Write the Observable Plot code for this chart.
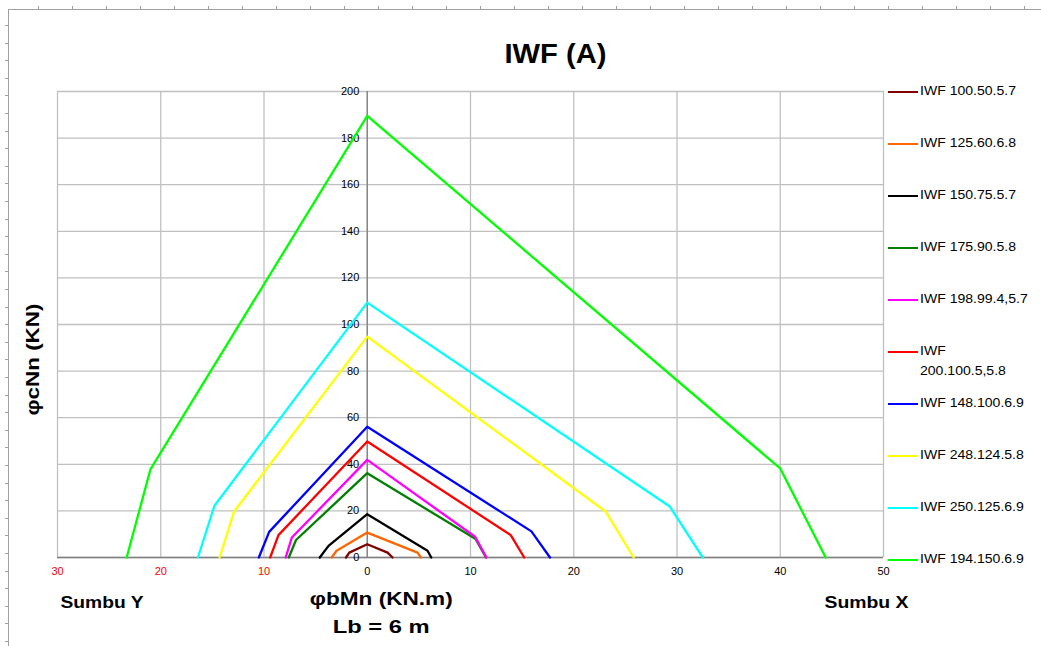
<!DOCTYPE html>
<html>
<head>
<meta charset="utf-8">
<script src="https://cdn.jsdelivr.net/npm/d3@7"></script>
<script src="https://cdn.jsdelivr.net/npm/@observablehq/plot@0.6"></script>
<style>
  html, body { margin: 0; padding: 0; background: #fff; }
  #wrap { position: relative; width: 1041px; height: 646px; overflow: hidden; font-family: "Liberation Sans", Arial, sans-serif; }
  #frame { position: absolute; left: 8px; top: 9px; right: 0; bottom: 0; border-left: 1px solid #a0a0a0; border-top: 1px solid #a0a0a0; }
  #tickTop { position: absolute; left: 8px; top: 6px; right: 0; height: 3px;
    background: repeating-linear-gradient(to right, transparent 0 30px, #a0a0a0 30px 31px, transparent 31px 34px); }
  #tickLeft { position: absolute; left: 5px; top: 9px; width: 3px; bottom: 0;
    background: repeating-linear-gradient(to bottom, transparent 0 16px, #a0a0a0 16px 17px, transparent 17px 17.6px); }
  #chart { position: absolute; left: 0; top: 0; }
  #legend { position: absolute; left: 888px; top: 0; width: 150px; font-size: 12px; color: #000; }
  .item { position: absolute; left: 0; display: flex; align-items: flex-start; }
  .sw { width: 30px; height: 2px; margin-top: 7px; flex: none; }
  .lab { width: 110px; line-height: 20px; margin-top: -3px; margin-left: 2px; transform: scaleX(1.17); transform-origin: left top; }
</style>
</head>
<body>
<div id="wrap">
  <div id="tickTop"></div>
  <div id="tickLeft"></div>
  <div id="frame"></div>
  <div id="chart"></div>
  <div id="legend"></div>
</div>
<script>
// ---- data ----
const seriesNames = [
  "IWF 100.50.5.7", "IWF 125.60.6.8", "IWF 150.75.5.7", "IWF 175.90.5.8",
  "IWF 198.99.4,5.7", "IWF 200.100.5,5.8", "IWF 148.100.6.9", "IWF 248.124.5.8",
  "IWF 250.125.6.9", "IWF 194.150.6.9"
];
const seriesColors = ["#800000", "#ff6600", "#000000", "#008000", "#ff00ff",
  "#ff0000", "#0000ff", "#ffff00", "#00ffff", "#00ff00"];
// φbMn (KN.m): negative = Sumbu Y, positive = Sumbu X
const mnValues = [
  [-2.06, -1.74, 0, 1.97, 2.45],
  [-3.45, -2.97, 0, 4.87, 5.2],
  [-4.6, -3.75, 0, 5.84, 6.2],
  [-7.6, -6.9, 0, 10.5, 11.5],
  [-7.9, -7.3, 0, 10.45, 11.55],
  [-9.4, -8.6, 0, 13.9, 15.2],
  [-10.5, -9.5, 0, 15.9, 17.7],
  [-14.3, -12.9, 0, 23.1, 25.8],
  [-16.4, -14.8, 0, 29.3, 32.5],
  [-23.3, -21.0, 0, 40.0, 44.4]
];
// φcNn (KN)
const nnValues = [
  [0, 2.1, 5.7, 2.1, 0],
  [0, 2.9, 10.7, 2.1, 0],
  [0, 5.0, 18.6, 2.9, 0],
  [0, 7.5, 36.2, 7.9, 0],
  [0, 8.6, 41.9, 8.9, 0],
  [0, 9.6, 49.8, 9.6, 0],
  [0, 11.0, 56.1, 11.2, 0],
  [0, 19.7, 94.8, 19.7, 0],
  [0, 22.2, 109.4, 21.9, 0],
  [0, 37.8, 189.5, 38.2, 0]
];
const xTicks = [-30, -20, -10, 0, 10, 20, 30, 40, 50];
const yTicks = [0, 20, 40, 60, 80, 100, 120, 140, 160, 180, 200];
const titleText = "IWF (A)";
const xTitle = "φbMn (KN.m)";
const xSubTitle = "Lb = 6 m";
const yTitle = "φcNn (KN)";
const leftLabel = "Sumbu Y";
const rightLabel = "Sumbu X";

// ---- build ----
const rows = [];
seriesNames.forEach((s, i) => {
  mnValues[i].forEach((x, j) => rows.push({ s, x, y: nnValues[i][j] }));
});

const font = "'Liberation Sans', Arial, sans-serif";
const chart = Plot.plot({
  width: 1041,
  height: 646,
  marginLeft: 57,
  marginRight: 158,
  marginTop: 91,
  marginBottom: 89,
  x: { domain: [-30, 50], axis: null },
  y: { domain: [0, 200], axis: null },
  color: { domain: seriesNames, range: seriesColors },
  style: { fontFamily: font, fontSize: "11px", background: "transparent", overflow: "visible" },
  marks: [
    Plot.ruleX(xTicks, { stroke: "#c0c0c0", strokeWidth: 1.3 }),
    Plot.ruleY(yTicks, { stroke: "#c0c0c0", strokeWidth: 1.3 }),
    Plot.ruleX([0], { stroke: "#808080", strokeWidth: 1.3 }),
    Plot.ruleY([0], { stroke: "#808080", strokeWidth: 1.3 }),
    Plot.text(yTicks, { x: 0, y: d => d, text: d => String(d), textAnchor: "end", dx: -8, fill: "black", fontSize: 11 }),
    Plot.text(xTicks.filter(d => d < 0), { x: d => d, frameAnchor: "bottom", dy: 17, text: d => String(Math.abs(d)), fill: "#ff0000", fontSize: 11 }),
    Plot.text(xTicks.filter(d => d >= 0), { x: d => d, frameAnchor: "bottom", dy: 17, text: d => String(d), fill: "black", fontSize: 11 }),
    Plot.line(rows, { x: "x", y: "y", z: "s", stroke: "s", strokeWidth: 2.3, curve: "linear" }),
    Plot.text([titleText], { frameAnchor: "top", lineAnchor: "middle", dx: 85, dy: -37, text: d => d, fontSize: 27, fontWeight: "bold", fill: "black" }),
    Plot.text([xTitle], { x: 0, frameAnchor: "bottom", dx: 14, dy: 47, text: d => d, fontSize: 18, fontWeight: "bold", fill: "black" }),
    Plot.text([xSubTitle], { x: 0, frameAnchor: "bottom", dx: 14, dy: 75, text: d => d, fontSize: 18, fontWeight: "bold", fill: "black" }),
    Plot.text([leftLabel], { frameAnchor: "bottom-left", textAnchor: "middle", dx: 44.5, dy: 50, text: d => d, fontSize: 17, fontWeight: "bold", fill: "black" }),
    Plot.text([rightLabel], { frameAnchor: "bottom-right", textAnchor: "middle", dx: -17, dy: 50, text: d => d, fontSize: 17, fontWeight: "bold", fill: "black" }),
    Plot.text([yTitle], { frameAnchor: "left", textAnchor: "middle", dx: -24, dy: 35, rotate: -90, text: d => d, fontSize: 18, fontWeight: "bold", fill: "black" })
  ]
});
document.getElementById("chart").appendChild(chart);

// stretch the label texts to the widths they have in the reference
const targetLengths = new Map([
  [titleText, 102], [xTitle, 143], [xSubTitle, 97],
  [leftLabel, 83], [rightLabel, 84], [yTitle, 112]
]);
chart.querySelectorAll("text").forEach(t => {
  const len = targetLengths.get(t.textContent);
  if (len) {
    t.setAttribute("textLength", len);
    t.setAttribute("lengthAdjust", "spacingAndGlyphs");
  }
});

// legend
const legend = document.getElementById("legend");
const legendTop = 84;
seriesNames.forEach((name, i) => {
  const item = document.createElement("div");
  item.className = "item";
  item.style.top = (legendTop + i * 52) + "px";
  const sw = document.createElement("div");
  sw.className = "sw";
  sw.style.background = seriesColors[i];
  const lab = document.createElement("div");
  lab.className = "lab";
  lab.textContent = name;
  if (name === "IWF 200.100.5,5.8") lab.style.width = "80px";
  item.appendChild(sw);
  item.appendChild(lab);
  legend.appendChild(item);
});
</script>
</body>
</html>
